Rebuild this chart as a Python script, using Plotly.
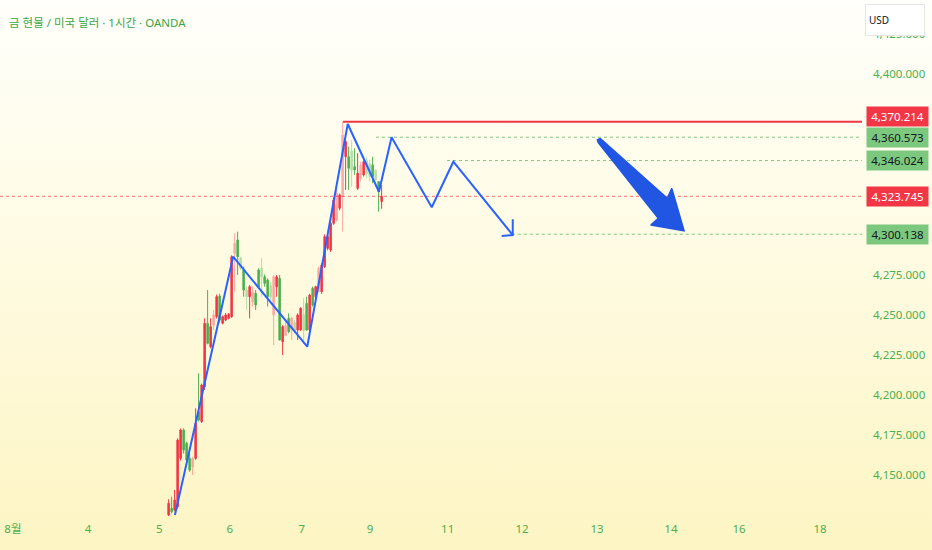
import base64
import plotly.graph_objects as go

# hourly bars (bar index 0 = first visible candle)
opens = [4125.1, 4129.3, 4128.2, 4130.3, 4160.4, 4178.1, 4169.8, 4160.4, 4155.2, 4160.4,
         4189.5, 4183.3, 4205.1, 4244.6, 4230.0, 4243.5, 4248.7, 4261.6, 4244.6, 4246.6,
         4247.7, 4248.7, 4288.2, 4296.5, 4285.3, 4277.8, 4265.3, 4261.2, 4258.0, 4263.3,
         4277.8, 4278.9, 4273.6, 4271.6, 4268.0, 4249.8, 4267.4, 4272.6, 4233.1, 4237.0,
         4247.7, 4240.4, 4245.0, 4240.4, 4240.4, 4250.0, 4257.0, 4240.4, 4266.4, 4261.2,
         4264.3, 4264.3, 4279.9, 4291.3, 4290.3, 4306.9, 4309.0, 4316.3, 4323.5, 4348.4,
         4348.4, 4352.0, 4342.2, 4328.7, 4335.0, 4337.0, 4346.0, 4344.0, 4343.3, 4340.0,
         4332.9, 4320.5]
highs = [4134.9, 4136.5, 4140.7, 4172.9, 4179.0, 4179.1, 4170.8, 4163.5, 4161.4, 4191.6,
         4213.4, 4207.0, 4247.7, 4265.3, 4247.7, 4252.9, 4262.5, 4263.0, 4249.5, 4251.0,
         4251.0, 4287.0, 4300.7, 4301.7, 4286.1, 4279.9, 4267.4, 4268.5, 4267.4, 4265.3,
         4278.9, 4285.1, 4275.0, 4272.6, 4270.5, 4274.7, 4274.7, 4274.7, 4243.5, 4246.6,
         4250.8, 4248.7, 4246.6, 4250.8, 4254.5, 4260.2, 4261.2, 4263.0, 4267.5, 4268.0,
         4280.0, 4282.0, 4300.0, 4299.5, 4308.0, 4323.0, 4327.7, 4325.5, 4370.2, 4358.9,
         4354.7, 4358.9, 4353.7, 4350.6, 4345.3, 4346.0, 4348.4, 4346.4, 4348.4, 4340.2,
         4333.0, 4330.8]
lows = [4124.5, 4126.1, 4127.5, 4129.0, 4159.0, 4163.5, 4157.3, 4152.0, 4150.0, 4159.5,
        4183.3, 4182.5, 4203.0, 4231.5, 4229.0, 4240.4, 4247.5, 4245.0, 4244.0, 4246.0,
        4247.0, 4248.0, 4264.3, 4274.7, 4277.8, 4261.2, 4252.9, 4247.7, 4255.0, 4252.9,
        4266.4, 4261.2, 4267.4, 4255.0, 4259.1, 4231.1, 4261.2, 4234.0, 4224.8, 4237.0,
        4238.4, 4234.2, 4238.4, 4234.2, 4240.0, 4232.1, 4240.0, 4239.0, 4255.0, 4260.0,
        4264.0, 4263.0, 4279.0, 4290.0, 4289.0, 4306.0, 4308.0, 4315.0, 4301.7, 4327.7,
        4327.7, 4329.7, 4337.0, 4327.7, 4332.9, 4336.0, 4335.0, 4332.9, 4331.9, 4333.9,
        4314.2, 4316.0]
closes = [4132.4, 4127.2, 4134.4, 4171.8, 4178.1, 4165.6, 4159.4, 4153.1, 4160.4, 4182.2,
          4184.3, 4206.1, 4244.6, 4232.1, 4242.5, 4249.8, 4261.2, 4246.6, 4248.7, 4249.8,
          4250.2, 4286.1, 4294.5, 4286.1, 4279.0, 4265.3, 4261.2, 4267.4, 4264.0, 4256.0,
          4267.4, 4273.6, 4269.5, 4261.2, 4261.0, 4273.6, 4273.6, 4234.2, 4242.5, 4243.0,
          4239.4, 4247.7, 4240.0, 4249.8, 4254.0, 4240.0, 4240.4, 4262.2, 4256.0, 4267.4,
          4278.9, 4280.9, 4298.6, 4298.6, 4306.9, 4321.4, 4325.6, 4324.6, 4362.0, 4357.8,
          4341.2, 4340.0, 4340.2, 4338.1, 4343.0, 4345.3, 4338.0, 4336.0, 4336.0, 4334.0,
          4326.6, 4323.745]
# 1 = drawn faded (second overlapping series)
faded = [0, 0, 0, 0, 0, 0, 0, 0, 1, 0,
         0, 0, 0, 0, 0, 1, 0, 0, 0, 0,
         0, 0, 1, 0, 1, 0, 1, 0, 1, 0,
         0, 1, 0, 0, 1, 1, 0, 0, 0, 1,
         0, 1, 1, 0, 0, 1, 0, 0, 0, 0,
         1, 0, 0, 0, 0, 0, 1, 0, 1, 0,
         0, 1, 0, 0, 1, 0, 1, 1, 0, 1,
         0, 0]

tick_index = [-51.9, -26.9, -3.1, 20.4, 44.4, 67.1, 93.0, 117.8, 142.8, 167.4, 190.1, 217.1]
tick_labels = ["8월", "4", "5", "6", "7", "9", "11", "12", "13", "14", "16", "18"]
price_ticks = [4150, 4175, 4200, 4225, 4250, 4275, 4400, 4425]

# drawings
zigzag_x = [2.1, 21.5, 46.2, 59.7, 70.1, 74.3, 87.7, 94.9, 114.7]
zigzag_y = [4125.1, 4286.1, 4230.0, 4368.8, 4326.6, 4360.5, 4316.9, 4345.3, 4299.6]
head_x = [111.0, 114.7, 114.7]
head_y = [4299.0, 4299.6, 4309.4]
arrow_x = [143.8, 166.2, 167.7, 171.8, 160.7, 163.2, 143.2, 142.9, 143.8]
arrow_y = [4359.9, 4322.5, 4328.7, 4302.3, 4305.9, 4310.0, 4357.2, 4358.9, 4359.9]

high_level = 4370.214
high_start = 58.1
levels = [4360.573, 4346.024, 4300.138]
level_start = [69.1, 92.8, 114.4]
last_price = 4323.745

X_MIN, X_MAX = -56.2, 231.1
RED = "#f23645"
GREEN = "#4caf50"
BLUE = "#2962ff"

fig = go.Figure()

for flag, op in [(1, 0.4), (0, 1.0)]:
    idx = [i for i in range(len(opens)) if faded[i] == flag]
    fig.add_trace(go.Candlestick(
        x=idx,
        open=[opens[i] for i in idx], high=[highs[i] for i in idx],
        low=[lows[i] for i in idx], close=[closes[i] for i in idx],
        increasing=dict(line=dict(color=RED, width=1), fillcolor=RED),
        decreasing=dict(line=dict(color=GREEN, width=1), fillcolor=GREEN),
        whiskerwidth=0, opacity=op, hoverinfo="skip", showlegend=False))

# level lines
fig.add_trace(go.Scatter(x=[X_MIN, X_MAX], y=[last_price, last_price], mode="lines",
                         line=dict(color="rgba(242,54,69,0.7)", width=1, dash="dot"),
                         hoverinfo="skip", showlegend=False))
for lv, st in zip(levels, level_start):
    fig.add_trace(go.Scatter(x=[st, X_MAX], y=[lv, lv], mode="lines",
                             line=dict(color="rgba(76,175,80,0.7)", width=1, dash="3px,3px"),
                             hoverinfo="skip", showlegend=False))
fig.add_trace(go.Scatter(x=[high_start, X_MAX], y=[high_level, high_level], mode="lines",
                         line=dict(color=RED, width=2), hoverinfo="skip", showlegend=False))

# zigzag path + arrow
fig.add_trace(go.Scatter(x=zigzag_x, y=zigzag_y, mode="lines", line=dict(color=BLUE, width=2),
                         hoverinfo="skip", showlegend=False))
fig.add_trace(go.Scatter(x=head_x, y=head_y, mode="lines", line=dict(color=BLUE, width=2),
                         hoverinfo="skip", showlegend=False))
fig.add_trace(go.Scatter(x=arrow_x, y=arrow_y, mode="lines", fill="toself",
                         fillcolor="#2056e2", line=dict(color="#2056e2", width=1.5),
                         hoverinfo="skip", showlegend=False))

# background gradient
svg = ('<svg xmlns="http://www.w3.org/2000/svg" width="10" height="100" preserveAspectRatio="none">'
       '<defs><linearGradient id="g" x1="0" y1="0" x2="0" y2="1">'
       '<stop offset="0" stop-color="#fffffb"/><stop offset="0.45" stop-color="#fffbe3"/>'
       '<stop offset="1" stop-color="#fdf5c3"/></linearGradient></defs>'
       '<rect width="10" height="100" fill="url(#g)"/></svg>')
bg_src = "data:image/svg+xml;base64," + base64.b64encode(svg.encode()).decode()

W, H, MR, MB = 932, 550, 70, 30
pw, ph = W - MR, H - MB

annotations = [
    dict(text="금 현물 / 미국 달러 · 1시간 · OANDA", xref="paper", yref="paper", x=0, y=1,
         xanchor="left", yanchor="middle", xshift=7, yshift=-22, showarrow=False,
         font=dict(size=11.5, color="#3da443")),
    dict(text="USD", xref="paper", yref="paper", x=1, y=1, xanchor="left", yanchor="top",
         xshift=3, yshift=-4, showarrow=False, width=52, height=24, align="left",
         bgcolor="white", bordercolor="#e6e6e6", borderwidth=1, borderpad=3,
         font=dict(size=10, color="#131722")),
]
labels = [(high_level, RED, "white", 5), (levels[0], "#7cc87e", "#131722", 0),
          (levels[1], "#7cc87e", "#131722", 0), (last_price, RED, "white", 0),
          (levels[2], "#7cc87e", "#131722", 0)]
for val, bg, fc, ys in labels:
    annotations.append(dict(
        text=f"{val:,.3f}", xref="paper", yref="y", x=1, y=val, xanchor="left",
        yanchor="middle", xshift=4, yshift=ys, showarrow=False, width=57, align="center",
        bgcolor=bg, borderpad=2, font=dict(size=11.5, color=fc)))

fig.update_layout(
    width=W, height=H,
    margin=dict(l=0, r=MR, t=0, b=MB),
    paper_bgcolor="rgba(0,0,0,0)", plot_bgcolor="rgba(0,0,0,0)",
    font=dict(family="Noto Sans, Noto Sans CJK KR", size=12, color=GREEN),
    images=[dict(source=bg_src, xref="paper", yref="paper", x=0, y=1,
                 sizex=W / pw, sizey=H / ph, xanchor="left", yanchor="top",
                 sizing="stretch", layer="below")],
    xaxis=dict(range=[X_MIN, X_MAX], showgrid=False, zeroline=False, rangeslider=dict(visible=False),
               tickmode="array", tickvals=tick_index, ticktext=tick_labels, ticks="",
               tickfont=dict(size=11.5, color=GREEN), showline=False),
    yaxis=dict(range=[4122.0, 4446.1], side="right", showgrid=False, zeroline=False,
               tickmode="array", tickvals=price_ticks, tickformat=",.3f", ticks="",
               ticklabelstandoff=10, tickfont=dict(size=11.5, color=GREEN)),
    annotations=annotations,
    showlegend=False,
)

fig.write_html("out.html", config={"displayModeBar": False},
               post_script="document.body.style.margin='0';")
